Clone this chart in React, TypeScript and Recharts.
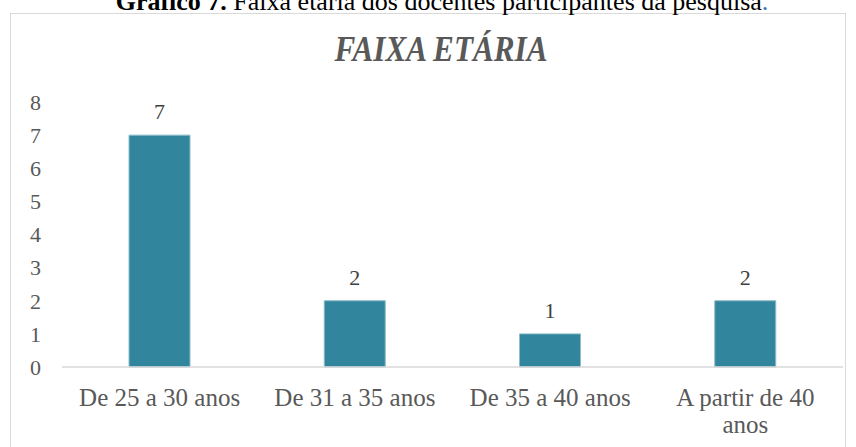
import { BarChart, Bar, XAxis, YAxis, LabelList } from "recharts";

// Faixa etária dos docentes
const faixas = ["De 25 a 30 anos", "De 31 a 35 anos", "De 35 a 40 anos", "A partir de 40 anos"];
const docentes = [7, 2, 1, 2];
const yTicks = [0, 1, 2, 3, 4, 5, 6, 7, 8];

const data = faixas.map((faixa, i) => ({ faixa, docentes: docentes[i] }));

const serif = "'Liberation Serif', 'Times New Roman', serif";

// quebra o rótulo em linhas de até 15 caracteres
const wrap = (label: string) => {
    const lines: string[] = [];
    let cur = "";
    label.split(" ").forEach(w => {
        const next = cur ? cur + " " + w : w;
        if (next.length > 15 && cur) {
            lines.push(cur);
            cur = w;
        } else {
            cur = next;
        }
    });
    if (cur) lines.push(cur);
    return lines;
};

const CategoryTick = (props: any) => {
    const { x, y, payload } = props;
    const lines = wrap(String(payload.value));
    return (
        <text x={x} y={y + 31} textAnchor="middle" fill="#595959" fontSize={25} fontFamily={serif}>
            {lines.map((l, i) => (
                <tspan key={i} x={x} dy={i === 0 ? 0 : 27}>{l}</tspan>
            ))}
        </text>
    );
};

const App = () => {
    return (
        <div style={{ position: "absolute", left: 0, top: 0, width: 856, height: 447, overflow: "hidden", background: "#fff" }}>
            <div style={{ position: "absolute", left: 10, top: 13, width: 836, height: 460, border: "1.5px solid #d9d9d9", boxSizing: "border-box" }} />
            <svg width={856} height={80} style={{ position: "absolute", left: 0, top: 0 }}>
                <text x={442} y={10} textAnchor="middle" fontFamily={serif} fontSize={26} fill="#000">
                    <tspan fontWeight="bold">Gráfico 7.</tspan>
                    <tspan>{"  Faixa etária dos docentes participantes da pesquisa"}</tspan>
                    <tspan fill="#2e74b5">.</tspan>
                </text>
                <text x={441} y={61} textAnchor="middle" fontFamily={serif} fontSize={35} fontStyle="italic" fontWeight="bold"
                      fill="#595959" textLength={213} lengthAdjust="spacingAndGlyphs">
                    FAIXA ETÁRIA
                </text>
            </svg>
            <BarChart width={856} height={447} data={data} margin={{ top: 102, right: 13, bottom: 50, left: 12 }}
                      style={{ position: "absolute", left: 0, top: 0 }}>
                <XAxis dataKey="faixa" tickLine={false} axisLine={{ stroke: "#d9d9d9", strokeWidth: 1.5 }}
                       tick={<CategoryTick />} interval={0} height={30} />
                <YAxis domain={[0, 8]} ticks={yTicks} interval={0} width={50} tickLine={false} axisLine={false} tickMargin={15}
                       tick={{ fill: "#595959", fontSize: 22, fontFamily: serif }} />
                <Bar dataKey="docentes" fill="#31859c" stroke="#8dbdca" strokeWidth={1} barSize={61} isAnimationActive={false}>
                    <LabelList dataKey="docentes" position="top" offset={16} fill="#404040" fontSize={22} fontFamily={serif} />
                </Bar>
            </BarChart>
        </div>
    );
};

export default App;
